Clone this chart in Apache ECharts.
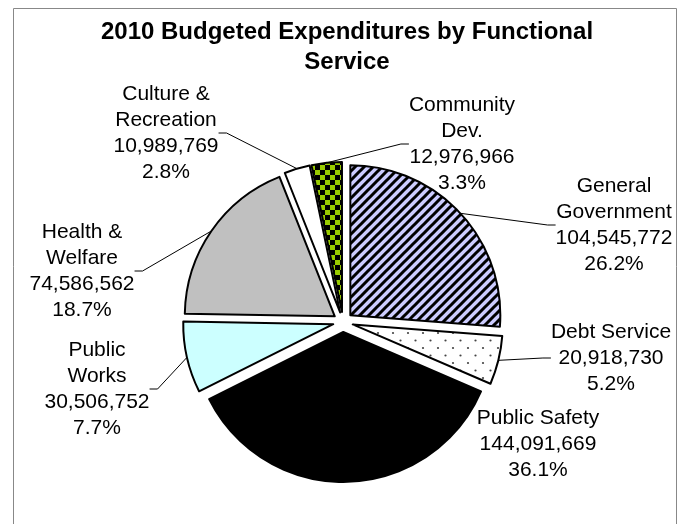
<!DOCTYPE html>
<html>
<head>
<meta charset="utf-8">
<script src="https://cdn.jsdelivr.net/npm/echarts@6/dist/echarts.min.js"></script>
<style>
  html, body { margin: 0; padding: 0; background: #fff; }
  #chart { width: 683px; height: 524px; }
</style>
</head>
<body>
<div id="chart"></div>
<script>
// Functional services (label text with its line breaks) and budgeted amounts
const categories = [
  'General\nGovernment',
  'Debt Service',
  'Public Safety',
  'Public\nWorks',
  'Health &\nWelfare',
  'Culture &\nRecreation',
  'Community\nDev.'
];
const amounts = [104545772, 20918730, 144091669, 30506752, 74586562, 10989769, 12976966];

// Where each label block is centred
const labelSpots = [
  [614, 225],
  [611, 358],
  [538, 444],
  [97, 389],
  [82, 271],
  [166, 133],
  [462, 144]
];

// Pie geometry
const pieCenter = [343, 322];
const pieRadius = 150;
const explode = 10;

// Small canvas tiles used as repeating fills
function makeTile(w, h, draw) {
  const c = document.createElement('canvas');
  c.width = w; c.height = h;
  draw(c.getContext('2d'), w, h);
  return c;
}
const stripeTile = makeTile(9, 9, (ctx, w, h) => {
  ctx.fillStyle = '#ccccff';
  ctx.fillRect(0, 0, w, h);
  ctx.strokeStyle = '#000';
  ctx.lineWidth = 3;
  ctx.beginPath();
  ctx.moveTo(-1, h + 1); ctx.lineTo(w + 1, -1);
  ctx.moveTo(-2, 2); ctx.lineTo(2, -2);
  ctx.moveTo(w - 2, h + 2); ctx.lineTo(w + 2, h - 2);
  ctx.stroke();
});
const dotTile = makeTile(15, 15, (ctx, w, h) => {
  ctx.fillStyle = '#fff';
  ctx.fillRect(0, 0, w, h);
  ctx.fillStyle = '#444';
  ctx.beginPath(); ctx.arc(3, 3, 1.1, 0, Math.PI * 2); ctx.fill();
  ctx.beginPath(); ctx.arc(10.5, 10.5, 1.1, 0, Math.PI * 2); ctx.fill();
});
const checkerTile = makeTile(10, 10, (ctx, w, h) => {
  ctx.fillStyle = '#99cc00';
  ctx.fillRect(0, 0, w, h);
  ctx.fillStyle = '#000';
  ctx.fillRect(0, 0, 5, 5);
  ctx.fillRect(5, 5, 5, 5);
});

const fills = [
  { image: stripeTile, repeat: 'repeat' },
  { image: dotTile, repeat: 'repeat' },
  '#000000',
  '#ccffff',
  '#c0c0c0',
  '#ffffff',
  { image: checkerTile, repeat: 'repeat' }
];

const fontFamily = '"Liberation Sans", Arial, sans-serif';
const total = amounts.reduce((a, b) => a + b, 0);

// Each slice gets its own pie layer whose centre is pushed out along the
// slice's bisector, giving the exploded look; the other slices in that
// layer stay invisible so every layer shares the same angles.
function explodedLayer(k) {
  const before = amounts.slice(0, k).reduce((a, b) => a + b, 0);
  const mid = 2 * Math.PI * (before + amounts[k] / 2) / total;
  const center = [pieCenter[0] + explode * Math.sin(mid), pieCenter[1] - explode * Math.cos(mid)];
  return {
    type: 'pie',
    center: center,
    radius: pieRadius,
    startAngle: 90,
    clockwise: true,
    percentPrecision: 1,
    avoidLabelOverlap: false,
    silent: true,
    emphasis: { disabled: true },
    label: {
      show: true,
      color: '#000',
      fontFamily: fontFamily,
      fontSize: 21,
      lineHeight: 26,
      formatter: p => p.name + '\n' + p.value.toLocaleString('en-US') + '\n' + p.percent.toFixed(1) + '%'
    },
    labelLine: {
      show: true,
      length: 10,
      length2: 8,
      lineStyle: { color: '#000', width: 1 }
    },
    labelLayout: params => {
      const s = labelSpots[params.dataIndex];
      return { x: s[0], y: s[1], align: 'center', verticalAlign: 'middle' };
    },
    data: categories.map((name, i) => i === k ? {
      name: name,
      value: amounts[i],
      itemStyle: { color: fills[i], borderColor: '#000', borderWidth: 2 },
      labelLine: { show: i !== 2 }
    } : {
      name: name,
      value: amounts[i],
      itemStyle: { color: 'rgba(0,0,0,0)', borderWidth: 0 },
      label: { show: false },
      labelLine: { show: false }
    })
  };
}

const chart = echarts.init(document.getElementById('chart'), null, { renderer: 'canvas' });

chart.setOption({
  animation: false,
  backgroundColor: '#fff',
  tooltip: { show: false },
  title: {
    text: '2010 Budgeted Expenditures by Functional\nService',
    left: 342,
    top: 12,
    textAlign: 'center',
    textStyle: {
      fontFamily: fontFamily,
      fontSize: 24,
      fontWeight: 'bold',
      lineHeight: 30,
      color: '#000'
    }
  },
  graphic: [{
    type: 'rect',
    silent: true,
    z: -10,
    shape: { x: 13.5, y: 8.5, width: 663, height: 540 },
    style: { fill: 'none', stroke: '#888', lineWidth: 1 }
  }],
  series: categories.map((_, k) => explodedLayer(k))
});
</script>
</body>
</html>
